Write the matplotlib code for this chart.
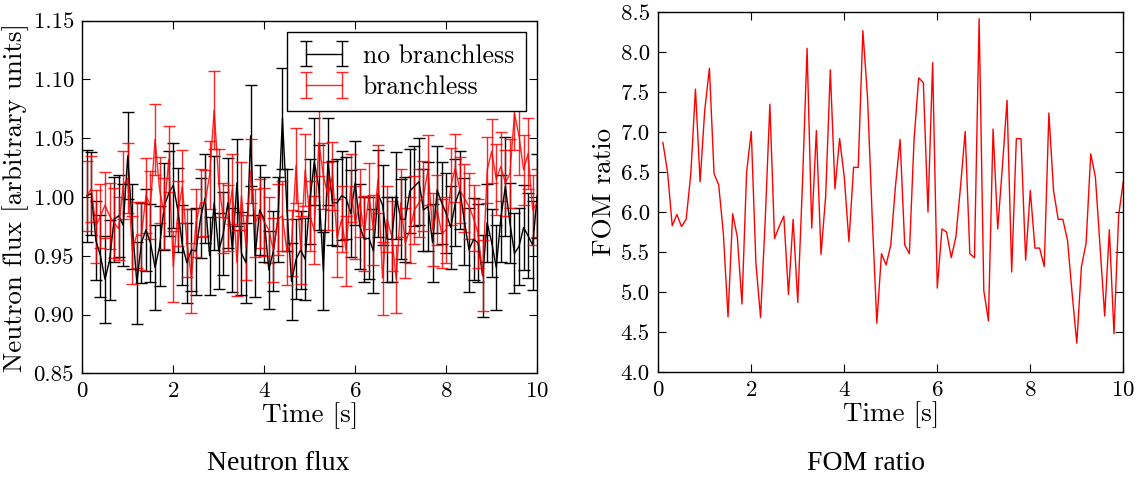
import numpy as np
import matplotlib
matplotlib.use("Agg")
import matplotlib.pyplot as plt

plt.rcParams['font.family'] = 'cmr10'
plt.rcParams['axes.formatter.use_mathtext'] = True
plt.rcParams['mathtext.fontset'] = 'cm'

# time grid 0.1 .. 10.0
time = np.round(np.arange(1, 101) * 0.1, 1)

flux_nobranch = [
    1.001, 1.003, 0.963, 0.950, 0.930, 0.946, 0.981, 0.984, 0.976, 1.035,
    0.975, 0.927, 0.961, 0.972, 0.961, 0.940, 0.958, 0.992, 1.003, 1.010,
    0.989, 0.959, 0.944, 0.955, 0.954, 0.982, 0.999, 0.950, 0.995, 0.954,
    0.969, 0.995, 0.955, 1.012, 0.952, 0.944, 1.052, 0.950, 0.989, 0.981,
    0.938, 0.954, 0.981, 1.067, 0.989, 0.928, 0.947, 0.955, 0.947, 0.996,
    1.030, 1.008, 0.937, 1.030, 0.995, 0.995, 1.001, 0.999, 0.986, 1.012,
    0.975, 0.964, 0.965, 0.954, 1.003, 0.993, 0.964, 0.964, 1.001, 0.981,
    0.981, 1.005, 1.009, 1.013, 0.989, 0.992, 0.961, 1.006, 0.995, 0.986,
    0.974, 0.995, 1.006, 0.979, 0.955, 0.964, 0.961, 0.933, 0.978, 0.961,
    0.940, 0.982, 1.009, 0.978, 0.952, 0.958, 0.974, 0.967, 0.959, 1.001,
]
err_nobranch = [
    0.039, 0.035, 0.034, 0.035, 0.037, 0.034, 0.036, 0.035, 0.035, 0.037,
    0.036, 0.035, 0.034, 0.035, 0.033, 0.036, 0.034, 0.037, 0.036, 0.036,
    0.036, 0.034, 0.034, 0.035, 0.037, 0.034, 0.038, 0.033, 0.040, 0.032,
    0.035, 0.038, 0.036, 0.037, 0.035, 0.034, 0.043, 0.035, 0.038, 0.036,
    0.033, 0.034, 0.036, 0.043, 0.035, 0.033, 0.034, 0.033, 0.035, 0.036,
    0.037, 0.036, 0.033, 0.037, 0.036, 0.037, 0.038, 0.035, 0.037, 0.036,
    0.036, 0.036, 0.035, 0.036, 0.037, 0.034, 0.036, 0.036, 0.037, 0.034,
    0.036, 0.036, 0.034, 0.037, 0.035, 0.038, 0.033, 0.037, 0.035, 0.034,
    0.035, 0.037, 0.033, 0.037, 0.036, 0.035, 0.033, 0.035, 0.033, 0.029,
    0.036, 0.037, 0.042, 0.034, 0.034, 0.033, 0.036, 0.036, 0.038, 0.036,
]
flux_branch = [
    1.001, 1.007, 0.975, 0.984, 0.993, 0.984, 0.978, 0.973, 1.010, 1.016,
    0.955, 0.968, 0.967, 1.001, 0.993, 1.049, 1.006, 0.986, 1.032, 0.941,
    0.986, 1.009, 0.961, 0.931, 0.978, 0.995, 0.995, 1.019, 1.074, 1.012,
    0.982, 0.982, 1.007, 0.944, 1.001, 0.957, 1.022, 0.978, 0.986, 0.979,
    0.972, 0.955, 0.981, 0.984, 0.953, 0.961, 1.027, 0.955, 1.023, 0.984,
    0.972, 1.046, 1.018, 1.001, 1.018, 0.965, 0.981, 0.954, 1.008, 0.978,
    0.995, 0.969, 1.001, 0.972, 1.015, 0.931, 0.981, 0.967, 0.930, 0.995,
    0.961, 0.972, 0.989, 0.995, 1.001, 1.023, 0.972, 0.989, 0.969, 0.972,
    1.009, 1.025, 1.006, 0.999, 0.992, 0.982, 0.969, 0.933, 1.023, 1.039,
    1.015, 1.026, 1.012, 1.020, 1.071, 1.052, 1.023, 1.037, 0.989, 0.995,
]
err_branch = [
    0.030, 0.028, 0.031, 0.027, 0.028, 0.028, 0.030, 0.027, 0.029, 0.030,
    0.029, 0.028, 0.029, 0.032, 0.029, 0.030, 0.028, 0.030, 0.028, 0.030,
    0.028, 0.031, 0.029, 0.030, 0.029, 0.029, 0.028, 0.029, 0.033, 0.029,
    0.030, 0.028, 0.030, 0.028, 0.029, 0.028, 0.027, 0.029, 0.029, 0.029,
    0.028, 0.027, 0.030, 0.030, 0.028, 0.028, 0.032, 0.029, 0.031, 0.030,
    0.029, 0.028, 0.028, 0.029, 0.029, 0.033, 0.028, 0.030, 0.029, 0.031,
    0.029, 0.032, 0.028, 0.030, 0.029, 0.031, 0.028, 0.030, 0.029, 0.029,
    0.030, 0.028, 0.029, 0.029, 0.030, 0.030, 0.031, 0.030, 0.029, 0.028,
    0.033, 0.029, 0.028, 0.029, 0.028, 0.028, 0.029, 0.030, 0.028, 0.027,
    0.030, 0.029, 0.028, 0.029, 0.031, 0.033, 0.030, 0.030, 0.030, 0.029,
]

fom_ratio = [
    6.87, 6.50, 5.83, 5.97, 5.82, 5.91, 6.48, 7.54, 6.38, 7.28,
    7.80, 6.48, 6.34, 5.73, 4.69, 5.98, 5.69, 4.85, 6.50, 7.01,
    5.36, 4.68, 5.90, 7.35, 5.67, 5.82, 5.95, 4.97, 5.91, 4.87,
    6.34, 8.05, 5.80, 7.02, 5.47, 6.20, 7.78, 6.29, 6.92, 6.44,
    5.63, 6.56, 6.56, 8.27, 7.44, 5.95, 4.61, 5.48, 5.34, 5.59,
    6.32, 6.91, 5.59, 5.48, 6.90, 7.68, 7.62, 6.00, 7.87, 5.05,
    5.79, 5.75, 5.43, 5.69, 6.32, 7.01, 5.48, 5.43, 8.42, 5.02,
    4.64, 7.04, 5.79, 6.57, 7.40, 5.25, 6.92, 6.92, 5.40, 6.27,
    5.55, 5.55, 5.32, 7.24, 6.27, 5.91, 5.91, 5.65, 4.98, 4.36,
    5.32, 5.61, 6.73, 6.44, 5.57, 4.70, 5.78, 4.48, 5.96, 6.38,
]


def style_axes(ax):
    ax.tick_params(direction='in', top=True, right=True, length=6,
                   width=0.8, labelsize=16.5, pad=6)
    for s in ax.spines.values():
        s.set_linewidth(1.0)


fig = plt.figure(figsize=(11.44, 4.79), dpi=100)

# left: neutron flux
ax1 = fig.add_axes([0.0719, 0.2207, 0.3977, 0.7361])
ax1.errorbar(time, flux_nobranch, yerr=err_nobranch, color='black', lw=1.0,
             elinewidth=1.0, capsize=4, capthick=1.0, label='no branchless')
ax1.errorbar(time, flux_branch, yerr=err_branch, color='red', lw=1.0,
             elinewidth=1.0, capsize=4, capthick=1.0, alpha=0.85,
             label='branchless')
ax1.set_xlim(0, 10)
ax1.set_ylim(0.85, 1.15)
ax1.set_yticks(np.arange(0.85, 1.1501, 0.05))
ax1.yaxis.set_major_formatter(plt.FuncFormatter(lambda v, p: f'{v:.2f}'))
ax1.set_xticks(range(0, 11, 2))
ax1.set_xlabel('Time [s]', fontsize=19.5, labelpad=1)
ax1.set_ylabel('Neutron flux [arbitrary units]', fontsize=19.5, labelpad=3)
style_axes(ax1)
leg = ax1.legend(loc='upper right', fontsize=18.5, fancybox=False,
                 edgecolor='black', framealpha=1, numpoints=2,
                 handlelength=2.0, borderaxespad=0.45, labelspacing=0.3,
                 handletextpad=0.5, borderpad=0.45)
leg.get_frame().set_linewidth(1.0)

# right: FOM ratio
ax2 = fig.add_axes([0.5754, 0.2234, 0.4065, 0.7509])
ax2.plot(time, fom_ratio, color='red', lw=1.0)
ax2.set_xlim(0, 10)
ax2.set_ylim(4.0, 8.5)
ax2.set_yticks(np.arange(4.0, 8.501, 0.5))
ax2.yaxis.set_major_formatter(plt.FuncFormatter(lambda v, p: f'{v:.1f}'))
ax2.set_xticks(range(0, 11, 2))
ax2.set_xlabel('Time [s]', fontsize=19.5, labelpad=1)
ax2.set_ylabel('FOM ratio', fontsize=19.5, labelpad=3)
style_axes(ax2)

# captions under each panel
fig.text(0.243, 0.033, 'Neutron flux', ha='center', va='center',
         fontsize=20, family='Liberation Serif')
fig.text(0.757, 0.033, 'FOM ratio', ha='center', va='center',
         fontsize=20, family='Liberation Serif')

fig.savefig('out.png', dpi=100)
